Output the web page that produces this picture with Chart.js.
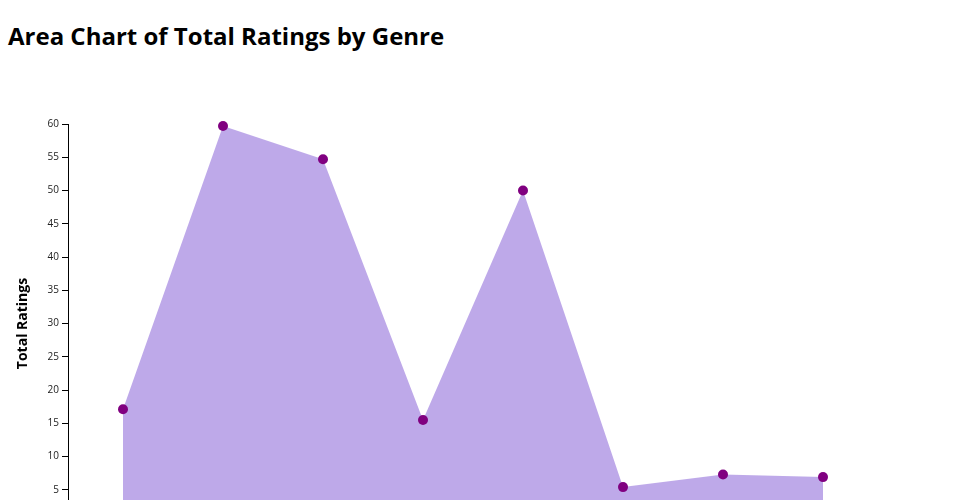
<!DOCTYPE html>
<html>
<head>
<meta charset="utf-8">
<title>Area Chart of Total Ratings by Genre</title>
<script src="https://cdn.jsdelivr.net/npm/chart.js@4.4.1/dist/chart.umd.min.js"></script>
<style>
  html, body { margin: 0; padding: 0; background: #fff; overflow: hidden; }
  body { width: 960px; height: 500px; position: relative; font-family: 'Open Sans', sans-serif; }
  h2 {
    position: absolute; left: 8px; top: 19px; margin: 0;
    font: bold 24px 'Open Sans', sans-serif; line-height: normal; color: #000;
  }
  #areaChart { position: absolute; left: 0; top: 0; }
</style>
</head>
<body>
<h2>Area Chart of Total Ratings by Genre</h2>
<canvas id="areaChart" width="960" height="560"></canvas>
<script>
// genres sit below the visible part of the page, names are a guess
const genres = ['Action', 'Adventure', 'Comedy', 'Drama', 'Fantasy', 'Horror', 'Romance', 'Sci-Fi'];
const totalRatings = [17.1, 59.7, 54.7, 15.5, 50.0, 5.4, 7.3, 6.9];
const yTicks = [0, 5, 10, 15, 20, 25, 30, 35, 40, 45, 50, 55, 60];

const points = genres.map((g, i) => ({ x: i, y: totalRatings[i] }));

const ctx = document.getElementById('areaChart').getContext('2d');

new Chart(ctx, {
    type: 'line',
    data: {
        datasets: [{
            label: 'Total Ratings',
            data: points,
            fill: 'origin',
            clip: false,
            backgroundColor: 'rgba(147, 112, 219, 0.6)',
            borderWidth: 0,
            borderColor: 'rgba(0,0,0,0)',
            tension: 0,
            pointRadius: 5,
            pointHoverRadius: 5,
            pointBorderWidth: 0,
            pointBackgroundColor: 'purple'
        }]
    },
    options: {
        responsive: false,
        animation: false,
        devicePixelRatio: 1,
        layout: { padding: { top: 124, right: 82, bottom: 0, left: 0 } },
        plugins: {
            legend: { display: false },
            tooltip: { enabled: false }
        },
        scales: {
            x: {
                type: 'linear',
                min: -0.55,
                max: 7.55,
                afterBuildTicks: s => { s.ticks = genres.map((g, i) => ({ value: i })); },
                afterFit: s => { s.height = 37; },
                grid: { drawOnChartArea: false, color: '#000', tickLength: 6 },
                border: { color: '#000', width: 1 },
                ticks: {
                    color: '#222',
                    font: { family: 'Open Sans', size: 10 },
                    callback: v => genres[v]
                }
            },
            y: {
                min: 0,
                max: 60,
                afterBuildTicks: s => { s.ticks = yTicks.map(v => ({ value: v })); },
                afterFit: s => { s.width = 68; },
                grid: { drawOnChartArea: false, color: '#000', tickLength: 6 },
                border: { color: '#000', width: 1 },
                ticks: {
                    color: '#222',
                    padding: 3,
                    font: { family: 'Open Sans', size: 10 }
                },
                title: {
                    display: true,
                    text: 'Total Ratings',
                    color: '#000',
                    padding: { top: 15, bottom: 0 },
                    font: { family: 'Open Sans', size: 14, weight: 'bold' }
                }
            }
        }
    }
});
</script>
</body>
</html>
